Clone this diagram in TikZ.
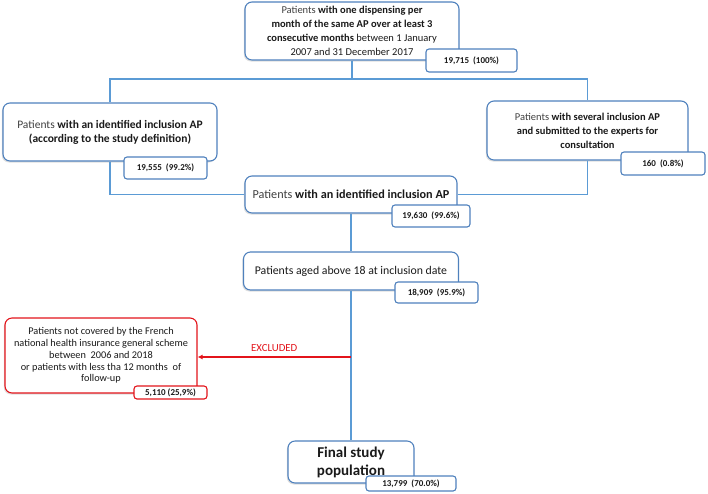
\documentclass[tikz,border=0pt]{standalone}
\usepackage{fontspec}
\setmainfont{Carlito}
\usepackage[HTML]{xcolor}
\usetikzlibrary{positioning, arrows.meta, shadows}
\definecolor{boxblue}{HTML}{4F81BD}
\definecolor{lineblue}{HTML}{5B9BD5}
\definecolor{exred}{HTML}{E3141B}
\definecolor{txtgray}{HTML}{404040}
\newcommand{\pat}{\textcolor{txtgray}{Patients}}

\begin{document}
\begin{tikzpicture}[x=1pt,y=-1pt,
  box/.style={draw=boxblue,line width=1.1pt,rounded corners=7pt,fill=white,align=center,
    inner sep=2pt,font=\fontsize{10.5}{14}\selectfont,text=black!90,
    drop shadow={opacity=0.25,shadow xshift=-1.2pt,shadow yshift=-1.5pt}},
  cnt/.style={draw=boxblue,line width=1.1pt,rounded corners=3pt,fill=white,inner sep=1pt,
    font=\fontsize{9}{10}\selectfont\bfseries,text=black!90},
  link/.style={draw=lineblue,line width=1.3pt},
  redbox/.style={box,draw=exred,font=\fontsize{10.3}{11.8}\selectfont},
  redcnt/.style={cnt,draw=exred,minimum height=13pt}]
\useasboundingbox (0,0) rectangle (708,493);
\node[box,minimum width=214pt,minimum height=58pt] (top) at (352,31)
  {\pat{} \textbf{with one dispensing per}\\ \textbf{month of the same AP over at least 3}\\
   \textbf{consecutive months} between 1 January\\ 2007 and 31 December 2017};
\node[cnt,minimum width=91pt,minimum height=23pt] (cnttop) at (471.5,60.5) {19,715~~(100\%)};
\node[box,minimum width=214pt,minimum height=58pt,font=\fontsize{11.5}{14}\selectfont] (left) at (110,132)
  {\pat{} \textbf{with an identified inclusion AP}\\ \textbf{(according to the study definition)}};
\node[cnt,minimum width=83pt,minimum height=22pt] (cntleft) at (165.5,168) {19,555~~(99.2\%)};
\node[box,minimum width=201pt,minimum height=59pt] (right) at (587.5,130.5)
  {\pat{} \textbf{with several inclusion AP}\\ \textbf{and submitted to the experts for}\\ \textbf{consultation}};
\node[cnt,minimum width=84pt,minimum height=23pt] (cntright) at (663,163.5) {160~~(0.8\%)};
\node[box,minimum width=212pt,minimum height=37pt,font=\fontsize{12.2}{14}\selectfont] (mid) at (351,194.5)
  {\pat{} \textbf{with an identified inclusion AP}};
\node[cnt,minimum width=78pt,minimum height=22pt] (cntmid) at (431,216) {19,630~~(99.6\%)};
\node[box,minimum width=215pt,minimum height=38pt,font=\fontsize{11.8}{14}\selectfont] (aged) at (351,271)
  {Patients aged above 18 at inclusion date};
\node[cnt,minimum width=83pt,minimum height=21pt] (cntaged) at (436.5,292.5) {18,909~~(95.9\%)};
\node[redbox,minimum width=192pt,minimum height=75pt] (excl) at (101,355.5)
  {Patients not covered by the French\\ national health insurance general scheme\\
   between~~2006 and 2018\\ or patients with less tha 12 months~~of\\ follow-up};
\node[redcnt,minimum width=73pt] (cntexcl) at (170.5,392.5) {5,110 (25,9\%)};
\node[box,minimum width=126pt,minimum height=42pt,font=\fontsize{15}{18}\selectfont\bfseries] (final) at (351,462)
  {Final study\\ population};
\node[cnt,minimum width=90pt,minimum height=15pt] (cntfinal) at (411,483.5) {13,799~~(70.0\%)};
\coordinate (split) at (352,79);
\coordinate (exc) at (351,357);
\draw[link] (top.south) -- (split);
\draw[link] (left.north) |- (split) -| (right.north);
\draw[link] (left.south) |- (mid.west);
\draw[link] (right.south) |- (mid.east);
\draw[link] (mid.south) -- (aged.north);
\draw[link] (aged.south) -- (final.north);
\draw[draw=exred,line width=1.1pt,-{Latex[length=5pt,width=5pt]}] (exc) -- (exc -| excl.east)
  node[midway,above=2pt,text=exred,font=\fontsize{10.8}{12}\selectfont] (exlab) {EXCLUDED};
\end{tikzpicture}
\end{document}
